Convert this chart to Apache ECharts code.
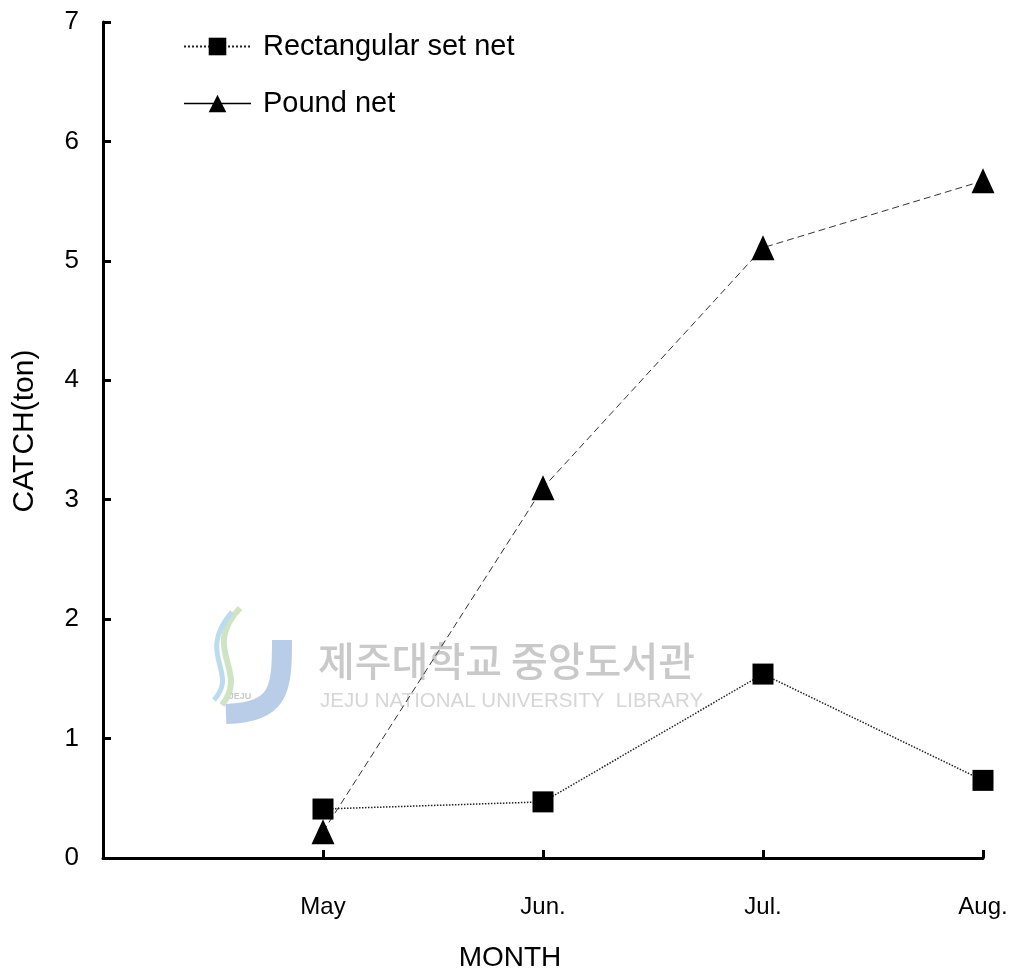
<!DOCTYPE html>
<html>
<head>
<meta charset="utf-8">
<title>CATCH by month</title>
<script src="https://cdn.jsdelivr.net/npm/echarts@6/dist/echarts.min.js"></script>
<style>
  html, body { margin: 0; padding: 0; background: #fff; }
  #chart { width: 1017px; height: 975px; }
</style>
</head>
<body>
<div id="chart"></div>
<script>
// 첫 칸은 빈 자리 (May 앞 간격)
const months = ['', 'May', 'Jun.', 'Jul.', 'Aug.'];
const rectSetNet = ['-', 0.41, 0.47, 1.54, 0.65];
const poundNet = ['-', 0.22, 3.1, 5.11, 5.67];
const yTicks = { min: 0, max: 7, interval: 1 };

const FONT = "'Liberation Sans', Arial, sans-serif";
const KFONT = "'Noto Sans CJK KR', sans-serif";

const chart = echarts.init(document.getElementById('chart'));

const option = {
  animation: false,
  backgroundColor: '#fff',
  grid: { left: 103, right: 34, top: 22, bottom: 117, containLabel: false, outerBoundsMode: 'none' },
  legend: {
    orient: 'vertical',
    left: 178,
    top: 27,
    itemWidth: 67,
    itemHeight: 22,
    itemGap: 28,
    textStyle: { fontFamily: FONT, fontSize: 29, color: '#000', padding: [0, 0, 0, 7] },
    data: [
      { name: 'Rectangular set net' },
      { name: 'Pound net', lineStyle: { type: 'solid', width: 1.5, color: '#000' } }
    ]
  },
  xAxis: {
    type: 'category',
    data: months,
    boundaryGap: false,
    axisLine: { lineStyle: { color: '#000', width: 3 } },
    axisTick: { inside: true, length: 8, lineStyle: { color: '#000', width: 3 } },
    axisLabel: { fontFamily: FONT, fontSize: 24, color: '#000', margin: 37 },
    splitLine: { show: false }
  },
  yAxis: {
    type: 'value',
    min: yTicks.min,
    max: yTicks.max,
    interval: yTicks.interval,
    axisLine: { show: true, lineStyle: { color: '#000', width: 3 } },
    axisTick: { show: true, inside: true, length: 8, lineStyle: { color: '#000', width: 3 } },
    axisLabel: { fontFamily: FONT, fontSize: 26, color: '#000', margin: 24 },
    splitLine: { show: false }
  },
  graphic: [
    // 워터마크 로고 (대략)
    { type: 'bezierCurve', silent: true, z: 0,
      shape: { x1: 240, y1: 608, cpx1: 200, cpy1: 650, cpx2: 250, cpy2: 670, x2: 222, y2: 705 },
      style: { stroke: '#cfe4c2', lineWidth: 6, fill: null } },
    { type: 'bezierCurve', silent: true, z: 0,
      shape: { x1: 232, y1: 612, cpx1: 195, cpy1: 655, cpx2: 240, cpy2: 672, x2: 214, y2: 700 },
      style: { stroke: '#bcdcee', lineWidth: 5, fill: null } },
    { type: 'bezierCurve', silent: true, z: 0,
      shape: { x1: 282, y1: 640, cpx1: 282, cpy1: 690, cpx2: 280, cpy2: 712, x2: 226, y2: 714 },
      style: { stroke: '#b9cde9', lineWidth: 20, fill: null } },
    { type: 'text', silent: true, z: 0,
      style: { x: 240, y: 697, text: 'JEJU', fill: '#c9c9c9', font: "bold 9px " + FONT, textAlign: 'center', textVerticalAlign: 'middle' } },
    { type: 'text', silent: true, z: 0,
      style: { x: 318, y: 661, text: '제주대학교 중앙도서관', fill: '#c9c9c9', font: "500 40px " + KFONT, textAlign: 'left', textVerticalAlign: 'middle' } },
    { type: 'text', silent: true, z: 0,
      style: { x: 320, y: 701, text: 'JEJU NATIONAL UNIVERSITY  LIBRARY', fill: '#d6d6d6', font: "20.5px " + FONT, textAlign: 'left', textVerticalAlign: 'middle' } },
    // 축 제목
    { type: 'text', silent: true, rotation: Math.PI / 2, x: 25, y: 431,
      style: { x: 0, y: 0, text: 'CATCH(ton)', fill: '#000', font: "30px " + FONT, textAlign: 'center', textVerticalAlign: 'middle' } },
    { type: 'text', silent: true,
      style: { x: 510, y: 958, text: 'MONTH', fill: '#000', font: "28px " + FONT, textAlign: 'center', textVerticalAlign: 'middle' } }
  ],
  series: [
    {
      name: 'Rectangular set net',
      type: 'line',
      data: rectSetNet,
      symbol: 'rect',
      symbolSize: 21,
      itemStyle: { color: '#000' },
      lineStyle: { color: '#222', width: 1.5, type: 'dotted' },
      z: 3
    },
    {
      name: 'Pound net',
      type: 'line',
      data: poundNet,
      symbol: 'triangle',
      symbolSize: [23, 25],
      itemStyle: { color: '#000' },
      lineStyle: { color: '#333', width: 1, type: [7, 4] },
      z: 3
    }
  ]
};

chart.setOption(option);
</script>
</body>
</html>
